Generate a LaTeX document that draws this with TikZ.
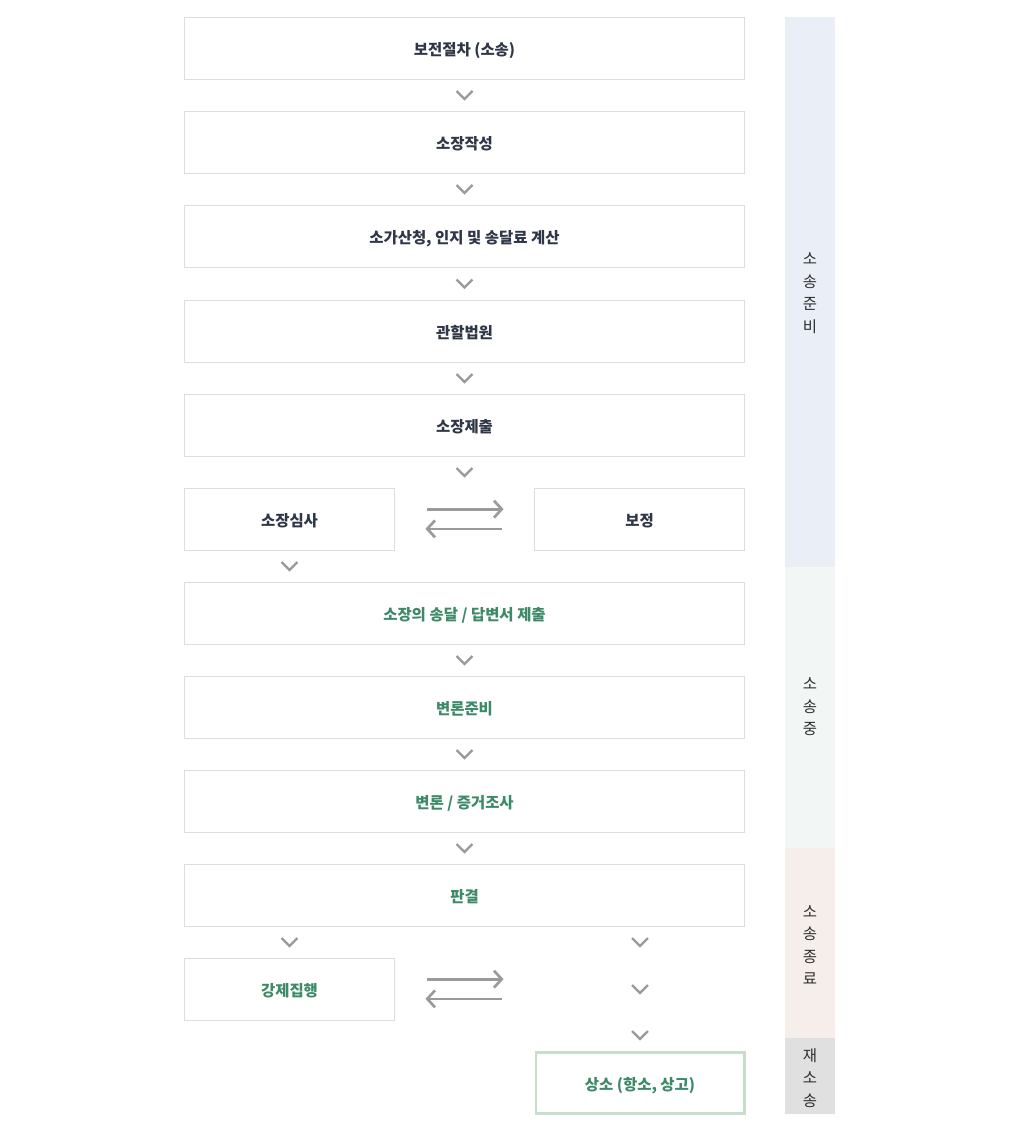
\documentclass[tikz,border=0pt]{standalone}
\usepackage{fontspec}
\setmainfont{Noto Sans CJK KR}
\usetikzlibrary{arrows.meta,calc}

\definecolor{boxline}{HTML}{DDDDDD}
\definecolor{navytxt}{HTML}{2F3747}
\definecolor{leaftxt}{HTML}{3C8A67}
\definecolor{chevcol}{HTML}{9A9A9A}
\definecolor{appealline}{HTML}{C9DDCD}
\definecolor{sidetxt}{HTML}{2E2E2E}
\definecolor{prepbg}{HTML}{EAEFF7}
\definecolor{duringbg}{HTML}{F2F7F6}
\definecolor{endbg}{HTML}{F5EEEB}
\definecolor{againbg}{HTML}{E0E0E0}

\begin{document}
\begin{tikzpicture}[x=0.025cm, y=-0.025cm,
    box/.style={draw=boxline, line width=0.7pt, fill=white, inner sep=0pt,
      minimum width=13.975cm, minimum height=1.55cm,
      text height=1.05em, text depth=0.05em,
      font=\bfseries\fontsize{11}{13}\selectfont, text=navytxt},
    half/.style={box, minimum width=5.225cm},
    lawtxt/.style={text=leaftxt},
    swap/.style={draw=chevcol, line width=1.9pt,
      -{Straight Barb[length=5.5pt,width=12pt]},
      shorten <=23pt, shorten >=22pt},
    sidelbl/.style={align=center, text=sidetxt,
      font=\fontsize{11}{16}\selectfont},
    chev/.pic={\draw[chevcol, line width=1.7pt] (-8,-4) -- (0,4) -- (8,-4);}]
  \fill[white] (0,0) rectangle (1020,1132);

  % main column
  \node[box] (hold) at (464.5,48) {보전절차 (소송)};
  \node[box] (draft) at (464.5,142) {소장작성};
  \node[box] (fee) at (464.5,236) {소가산청, 인지 및 송달료 계산};
  \node[box] (court) at (464.5,331) {관할법원};
  \node[box] (file) at (464.5,425) {소장제출};
  \node[half] (review) at (289.5,519) {소장심사};
  \node[half] (amend) at (639.5,519) {보정};
  \node[box, lawtxt] (serve) at (464.5,613) {소장의 송달 / 답변서 제출};
  \node[box, lawtxt] (prep) at (464.5,707) {변론준비};
  \node[box, lawtxt] (plead) at (464.5,801) {변론 / 증거조사};
  \node[box, lawtxt] (judge) at (464.5,895) {판결};
  \node[half, lawtxt] (enforce) at (289.5,989) {강제집행};
  \node[half, lawtxt, draw=appealline, line width=2.1pt,
    minimum width=5.2cm, minimum height=1.53cm] (appeal) at (640,1083) {상소 (항소, 상고)};
  \coordinate (gap) at (enforce.east -| amend.west);

  % chevrons
  \foreach \a/\b in {hold/draft, draft/fee, fee/court, court/file,
                     serve/prep, prep/plead, plead/judge}
    \pic at ($(\a.south)!.5!(\b.north)$) {chev};
  \pic at ($(file.south)!.5!(file.south |- review.north)$) {chev};
  \pic at ($(review.south)!.5!(review.south |- serve.north)$) {chev};
  \pic at ($(enforce.north)!.5!(enforce.north |- judge.south)$) {chev};
  \foreach \y in {942,989,1035}
    \pic at (640,\y) {chev};

  % back and forth
  \draw[swap] ([yshift=7pt]review.east) -- ([yshift=7pt]amend.west);
  \draw[swap] ([yshift=-7pt]amend.west) -- ([yshift=-7pt]review.east);
  \draw[swap] ([yshift=7pt]enforce.east) -- ([yshift=7pt]gap);
  \draw[swap] ([yshift=-7pt]gap) -- ([yshift=-7pt]enforce.east);

  % stages
  \fill[prepbg] (785,17) rectangle (835,567);
  \fill[duringbg] (785,567) rectangle (835,848);
  \fill[endbg] (785,848) rectangle (835,1038);
  \fill[againbg] (785,1038) rectangle (835,1114);
  \node[sidelbl] (stprep) at (810,293) {소\\송\\준\\비};
  \node[sidelbl] (stduring) at (810,707) {소\\송\\중};
  \node[sidelbl] (stend) at (810,945) {소\\송\\종\\료};
  \node[sidelbl] (stagain) at (810,1078) {재\\소\\송};
\end{tikzpicture}
\end{document}
